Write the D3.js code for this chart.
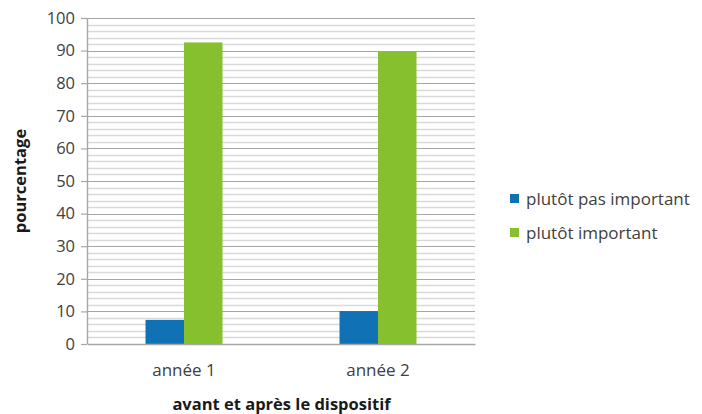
<!DOCTYPE html>
<html>
<head>
<meta charset="utf-8">
<script src="https://cdn.jsdelivr.net/npm/d3@7"></script>
<style>
  html, body { margin: 0; padding: 0; background: #fff; }
  svg { display: block; font-family: "Open Sans", sans-serif; }
</style>
</head>
<body>
<svg id="chart" width="702" height="414"></svg>
<script>
// Categories, series and tick values
const categories = ["année 1", "année 2"];
const seriesNames = ["plutôt pas important", "plutôt important"];
const pasImportant = [7.4, 10.1];
const important = [92.5, 89.8];
const majorTicks = [0, 10, 20, 30, 40, 50, 60, 70, 80, 90, 100];
const minorTicks = d3.range(0, 101, 2);
const colors = ["#1072b4", "#86c02f"];

const series = [pasImportant, important];

const svg = d3.select("#chart");
const margin = { left: 87, right: 227, top: 18, bottom: 70 };
const W = 702, H = 414;

const x = d3.scaleBand().domain(categories).range([margin.left, W - margin.right]);
const xi = d3.scaleBand().domain(seriesNames).range([0, x.bandwidth()]).paddingInner(0).paddingOuter(1.52);
const y = d3.scaleLinear().domain([0, 100]).range([H - margin.bottom, margin.top]);

// minor gridlines
svg.append("g").selectAll("line").data(minorTicks.filter(v => v % 10 !== 0)).join("line")
  .attr("x1", margin.left).attr("x2", W - margin.right)
  .attr("y1", d => Math.round(y(d)) + 0.5).attr("y2", d => Math.round(y(d)) + 0.5)
  .attr("stroke", "#d9d9d9").attr("stroke-width", 1.4);

// major gridlines
svg.append("g").selectAll("line").data(majorTicks.filter(v => v > 0)).join("line")
  .attr("x1", margin.left).attr("x2", W - margin.right)
  .attr("y1", d => Math.round(y(d)) + 0.5).attr("y2", d => Math.round(y(d)) + 0.5)
  .attr("stroke", "#a6a6a6").attr("stroke-width", 1.2);

// bars
const groups = svg.append("g").selectAll("g").data(series).join("g")
  .attr("fill", (d, i) => colors[i]);
groups.selectAll("rect").data((d, i) => d.map((v, j) => ({ v, cat: categories[j], s: seriesNames[i] })))
  .join("rect")
  .attr("x", d => x(d.cat) + xi(d.s))
  .attr("width", xi.bandwidth())
  .attr("y", d => y(d.v))
  .attr("height", d => y(0) - y(d.v));

// y axis
const yAxis = svg.append("g")
  .attr("transform", `translate(${margin.left},0)`)
  .call(d3.axisLeft(y).tickValues(majorTicks).tickSize(6).tickPadding(6));
yAxis.select(".domain").attr("stroke", "#a6a6a6").attr("stroke-width", 1.4).attr("d", `M0.5,${y(0)}V${y(100)}`);
yAxis.selectAll(".tick line").attr("stroke", "#a6a6a6").attr("stroke-width", 1.2);
yAxis.selectAll(".tick text").attr("fill", "#404040").style("font-size", "16.5px").attr("font-family", "Open Sans");

// x axis
const xAxis = svg.append("g")
  .attr("transform", `translate(0,${y(0)})`)
  .call(d3.axisBottom(x).tickSize(0).tickPadding(20));
xAxis.select(".domain").attr("stroke", "#a6a6a6").attr("stroke-width", 1.4);
xAxis.selectAll(".tick text").attr("fill", "#404040").style("font-size", "17px").attr("font-family", "Open Sans");

// axis titles
svg.append("text")
  .attr("x", (margin.left + W - margin.right) / 2 + 0.5).attr("y", 410)
  .attr("text-anchor", "middle").attr("font-weight", "bold").attr("font-size", "16.5px")
  .attr("fill", "#1a1a1a")
  .text("avant et après le dispositif");

svg.append("text")
  .attr("transform", `translate(26,${(margin.top + H - margin.bottom) / 2}) rotate(-90)`)
  .attr("text-anchor", "middle").attr("font-weight", "bold").attr("font-size", "16.5px")
  .attr("fill", "#1a1a1a")
  .text("pourcentage");

// legend
const legend = svg.append("g").selectAll("g").data(seriesNames).join("g")
  .attr("transform", (d, i) => `translate(510,${199 + i * 34})`);
legend.append("rect").attr("x", 0).attr("y", -5).attr("width", 9).attr("height", 9)
  .attr("fill", (d, i) => colors[i]);
legend.append("text").attr("x", 16).attr("y", 0).attr("dy", "0.35em")
  .attr("font-size", "17px").attr("fill", "#404040").text(d => d);
</script>
</body>
</html>
